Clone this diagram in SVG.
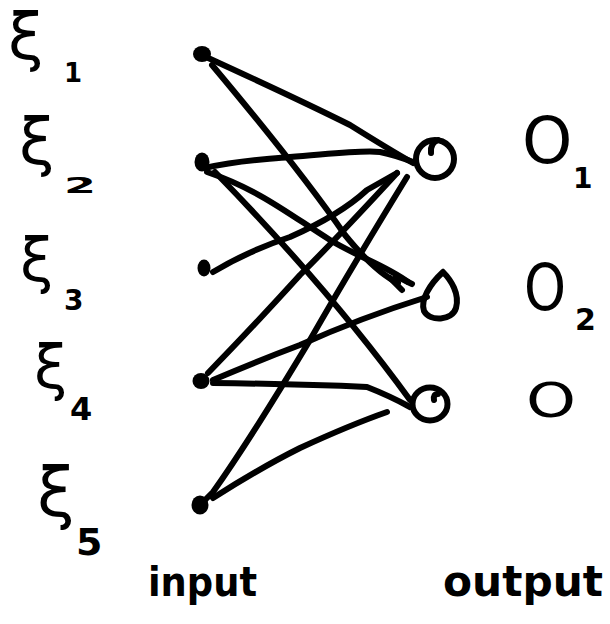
<svg xmlns="http://www.w3.org/2000/svg" width="610" height="624" viewBox="0 0 610 624">
<style>
.ln{fill:none;stroke:#000;stroke-width:6;stroke-linecap:round;stroke-linejoin:round}
.ring{fill:none;stroke:#000;stroke-width:6;stroke-linecap:round;stroke-linejoin:round}
.dot{fill:#000}
.t{font-family:"DejaVu Sans","Liberation Sans",sans-serif;font-weight:bold;fill:#000}
.g{font-family:"DejaVu Sans","Liberation Sans",sans-serif;font-weight:normal;fill:#000}
</style>
<rect width="610" height="624" fill="#fff"/>
<g id="connectors">
<path class="ln" d="M206,57 Q300,100 350,125 Q390,150 413,163"/>
<path class="ln" d="M212,65 Q300,170 345,235 Q375,272 398,283"/>
<path class="ln" d="M205,168 C240,160 260,160 290,157 C330,154 360,150 380,152 Q395,155 413,162"/>
<path class="ln" d="M207,172 C260,190 290,215 330,240 C360,258 385,265 408,282"/>
<path class="ln" d="M215,172 Q330,290 410,400"/>
<path class="ln" d="M213,272 Q250,250 290,237 Q340,215 367,190 L397,173"/>
<path class="ln" d="M397,173 Q340,235 300,275 Q250,330 208,373"/>
<path class="ln" d="M407,177 Q350,270 310,340 Q250,440 213,492 L205,500"/>
<path class="ln" d="M213,380 Q260,360 300,345 Q360,318 427,297"/>
<path class="ln" d="M213,383 Q300,384 367,387 Q390,396 410,407"/>
<path class="ln" d="M213,498 Q260,468 300,448 Q350,425 387,412"/>
<path class="ln" d="M390,278 L402,290 M396,276 L412,284"/>
</g>
<g id="in1"><ellipse class="dot" cx="202" cy="54" rx="9" ry="8"/></g>
<g id="in2"><ellipse class="dot" cx="202" cy="162" rx="7.5" ry="9.5"/></g>
<g id="in3"><ellipse class="dot" cx="204" cy="268" rx="6.5" ry="8.5"/></g>
<g id="in4"><ellipse class="dot" cx="201" cy="381" rx="8.5" ry="8"/></g>
<g id="in5"><ellipse class="dot" cx="200" cy="505" rx="8.5" ry="9.5"/></g>
<g id="out1"><ellipse class="ring" cx="435" cy="159" rx="19" ry="19"/><path class="ring" d="M431,153 Q430,143 438,140"/></g>
<g id="out2"><path class="ring" d="M443,272 C430,284 420,300 424,311 C430,322 452,321 456,308 C460,294 451,280 443,272"/></g>
<g id="out3"><ellipse class="ring" cx="430" cy="404" rx="17.5" ry="16.5"/><path class="ring" d="M434,400 Q433,394 438,394"/></g>
<g id="labels">
<text class="g" x="8" y="59" font-size="64">ξ</text>
<text class="t" x="64" y="82" font-size="26">1</text>
<text class="g" x="19" y="164" font-size="64">ξ</text>
<text class="t" x="64" y="193" font-size="22" textLength="32" lengthAdjust="spacingAndGlyphs">2</text>
<text class="g" x="20" y="281" font-size="60">ξ</text>
<text class="t" x="64" y="310" font-size="28">3</text>
<text class="g" x="34" y="388" font-size="60">ξ</text>
<text class="t" x="70" y="420" font-size="32">4</text>
<text class="g" x="37" y="516" font-size="68">ξ</text>
<text class="t" x="76" y="555" font-size="38">5</text>
<text class="g" x="522" y="163" font-size="64">O</text>
<text class="t" x="573" y="188" font-size="28">1</text>
<text class="g" x="524" y="310" font-size="64" textLength="42" lengthAdjust="spacingAndGlyphs">O</text>
<text class="t" x="575" y="330" font-size="30">2</text>
<text class="g" x="526" y="417" font-size="48" textLength="50" lengthAdjust="spacingAndGlyphs">O</text>
<text class="t" x="148" y="596" font-size="40" textLength="109" lengthAdjust="spacingAndGlyphs">input</text>
<text class="t" x="443" y="596" font-size="42" textLength="160" lengthAdjust="spacingAndGlyphs">output</text>
</g>
</svg>
